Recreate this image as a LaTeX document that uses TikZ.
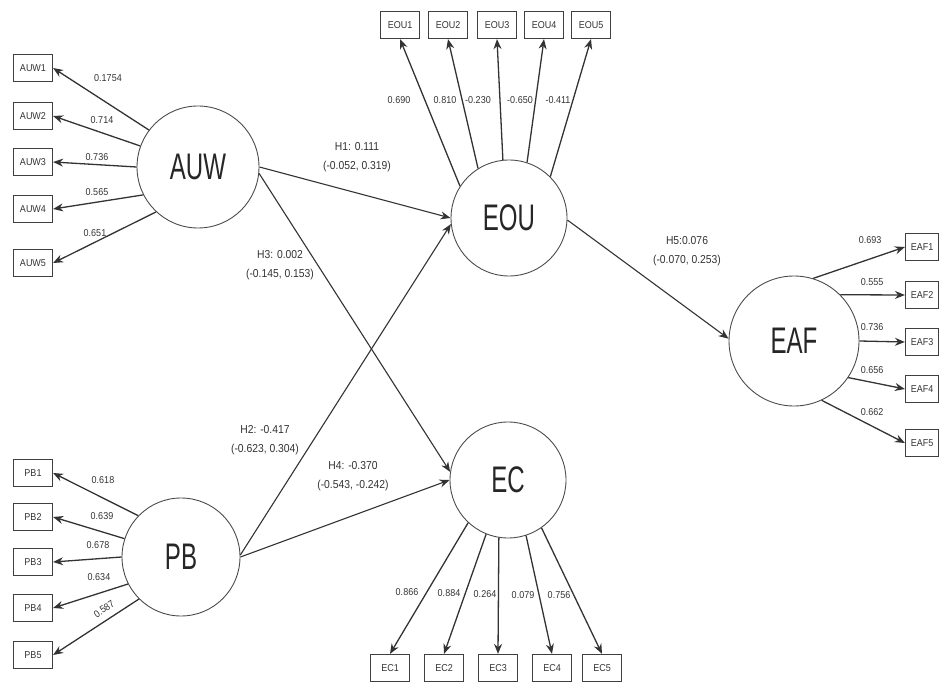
\documentclass[tikz,border=0pt]{standalone}
\usepackage{fontspec}
\setmainfont{Liberation Sans}
\newfontfamily\condfont{Liberation Sans}[FakeStretch=0.65]
\newfontfamily\loadfont{Liberation Sans}[FakeStretch=0.9]
\usetikzlibrary{arrows.meta}

\tikzset{
	latent/.style={draw=black!70, line width=0.9pt, circle, minimum size=#1, inner sep=0pt, text=black!85, font=\condfont\fontsize{37}{37}\selectfont},
	ind/.style={draw=black!75, line width=1.2pt, minimum width=39pt, minimum height=27pt, inner sep=0pt, text=black!80, font=\loadfont\fontsize{10}{10}\selectfont},
	lbl/.style={text=black!80, font=\loadfont\fontsize{10}{10}\selectfont},
	hlbl/.style={text=black!80, align=center, font=\loadfont\fontsize{11.5}{19}\selectfont},
	arr/.style={draw=black!80, line width=1.3pt, -{Stealth[length=10pt,width=8pt]}},
	hyp/.style={draw=black!80, line width=1.1pt, -{Stealth[length=10pt,width=8pt]}}
}

\begin{document}
\begin{tikzpicture}[x=1pt, y=-1pt]
	\useasboundingbox (0,0) rectangle (939,684);

%latent variables
	\node[latent=122pt] (AUW) at (198,167) {AUW};
	\node[latent=116pt] (EOU) at (509,218) {EOU};
	\node[latent=116pt] (EC) at (508,480) {EC};
	\node[latent=118pt] (PB) at (181,557) {PB};
	\node[latent=130pt] (EAF) at (794,341) {EAF};

%indicators
	\foreach \y/\name/\ang in {68/AUW1/143, 116/AUW2/160, 162/AUW3/180, 209/AUW4/207, 263/AUW5/227}{
		\node[ind] (\name) at (33, \y) {\name};
		\draw[arr] (AUW.\ang) -- (\name.east);
	}
	\foreach \y/\name/\ang in {473/PB1/136, 517/PB2/162, 562/PB3/180, 608/PB4/207, 655/PB5/225}{
		\node[ind] (\name) at (33, \y) {\name};
		\draw[arr] (PB.\ang) -- (\name.east);
	}
	\foreach \x/\name/\ang in {400/EOU1/147, 448/EOU2/122, 497/EOU3/96, 544/EOU4/72, 591/EOU5/45}{
		\node[ind] (\name) at (\x, 25) {\name};
		\draw[arr] (EOU.\ang) -- (\name.south);
	}
	\foreach \x/\name/\ang in {390/EC1/227, 444/EC2/248, 498/EC3/261, 552/EC4/288, 602/EC5/305}{
		\node[ind] (\name) at (\x, 668) {\name};
		\draw[arr] (EC.\ang) -- (\name.north);
	}
	\foreach \y/\name/\ang in {247/EAF1/73, 295/EAF2/45, 342/EAF3/0, 389/EAF4/326, 443/EAF5/295}{
		\node[ind, minimum width=33pt] (\name) at (922, \y) {\name};
		\draw[arr] (EAF.\ang) -- (\name.west);
	}

%loadings
	\foreach \xy/\val in {{(108,78)/0.1754},{(102,120)/0.714},{(97,157)/0.736},{(97,192)/0.565},{(95,233)/0.651},
		{(103,480)/0.618},{(102,516)/0.639},{(98,545)/0.678},{(99,577)/0.634},
		{(399,100)/0.690},{(445,100)/0.810},{(478,100)/-0.230},{(520,100)/-0.650},{(558,100)/-0.411},
		{(407,592)/0.866},{(449,593)/0.884},{(485,594)/0.264},{(523,595)/0.079},{(559,595)/0.756},
		{(870,240)/0.693},{(872,282)/0.555},{(872,327)/0.736},{(872,370)/0.656},{(872,412)/0.662}}{
		\node[lbl] at \xy {\val};
	}
	\node[lbl, rotate=35] at (104,609) {0.587};

%hypotheses
	\draw[hyp] (AUW.0) -- (EOU.180);
	\draw[hyp] (AUW.354) -- (EC.172);
	\draw[hyp] (PB.2) -- (EOU.186);
	\draw[hyp] (PB.0) -- (EC.180);
	\draw[hyp] (EOU.358) -- (EAF.178);

	\node[hlbl] at (357,157) {H1: 0.111\\(-0.052, 0.319)};
	\node[hlbl] at (280,265) {H3: 0.002\\(-0.145, 0.153)};
	\node[hlbl] at (265,440) {H2: -0.417\\(-0.623, 0.304)};
	\node[hlbl] at (353,476) {H4: -0.370\\(-0.543, -0.242)};
	\node[hlbl] at (687,251) {H5:0.076\\(-0.070, 0.253)};

\end{tikzpicture}
\end{document}
